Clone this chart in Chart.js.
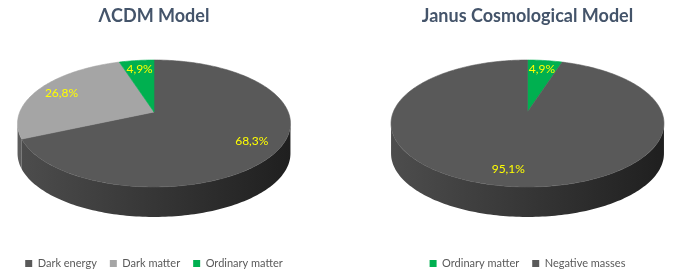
<!DOCTYPE html>
<html>
<head>
<meta charset="utf-8">
<script src="https://cdn.jsdelivr.net/npm/chart.js@4.4.1/dist/chart.umd.min.js"></script>
<style>
  html, body { margin: 0; padding: 0; background: #fff; }
  body { width: 679px; height: 274px; position: relative; overflow: hidden; }
  .pie-box { position: absolute; top: 0; height: 279px; }
  #lcdm-box { left: 0; width: 308px; }
  #janus-box { left: 376px; width: 303px; }
</style>
</head>
<body>
<div class="pie-box" id="lcdm-box"><canvas id="lcdm-chart"></canvas></div>
<div class="pie-box" id="janus-box"><canvas id="janus-chart"></canvas></div>
<script>
// Data
const lcdmTitle = 'ΛCDM Model';
const lcdmLabels = ['Dark energy', 'Dark matter', 'Ordinary matter'];
const lcdmValues = [68.3, 26.8, 4.9];

const janusTitle = 'Janus Cosmological Model';
const janusLabels = ['Ordinary matter', 'Negative masses'];
const janusValues = [4.9, 95.1];

// Style
const TOP_COLORS = {
    'Dark energy': '#595959',
    'Negative masses': '#595959',
    'Dark matter': '#a5a5a5',
    'Ordinary matter': '#00b050'
};
const SIDE_COLORS = {
    'Dark energy': ['#4d4d4d', '#1f1f1f'],
    'Negative masses': ['#4d4d4d', '#1f1f1f'],
    'Dark matter': ['#5c5c5c', '#3a3a3a'],
    'Ordinary matter': ['#009040', '#005a28']
};
const FONT = 'Lato';

// Fake 3D pie: reuse the arc angles Chart.js computed, project them onto a tilted disc
const pie3d = {
    id: 'pie3d',
    beforeDatasetsDraw(chart, args, opts) {
        const ctx = chart.ctx;
        const arcs = chart.getDatasetMeta(0).data;
        const ds = chart.data.datasets[0];
        const labels = chart.data.labels;
        const cx = arcs[0].x;
        const vy = opts.vertexY;
        const A = opts.rx, B = opts.ry, p = opts.persp, depth = opts.depth;

        const proj = (a, r) => {
            const x = r * Math.cos(a), z = r * Math.sin(a);
            const w = 1 - p * z;
            return [cx + A * x / w, vy + B * z / w];
        };
        const steps = (s, e) => Math.max(2, Math.ceil((e - s) / 0.02));

        ctx.save();

        // side walls (front half only)
        const vis0 = Math.asin(p), vis1 = Math.PI - Math.asin(p);
        arcs.forEach((arc, i) => {
            const s = Math.max(arc.startAngle, vis0);
            const e = Math.min(arc.endAngle, vis1);
            if (e <= s) return;
            const n = steps(s, e);
            ctx.beginPath();
            for (let k = 0; k <= n; k++) {
                const [x, y] = proj(s + (e - s) * k / n, 1);
                k === 0 ? ctx.moveTo(x, y) : ctx.lineTo(x, y);
            }
            for (let k = n; k >= 0; k--) {
                const [x, y] = proj(s + (e - s) * k / n, 1);
                ctx.lineTo(x, y + depth);
            }
            ctx.closePath();
            const g = ctx.createLinearGradient(cx - A * 1.02, 0, cx + A * 1.02, 0);
            const sc = SIDE_COLORS[labels[i]];
            g.addColorStop(0, sc[0]);
            g.addColorStop(1, sc[1]);
            ctx.fillStyle = g;
            ctx.fill();
        });

        // top faces
        arcs.forEach((arc, i) => {
            const s = arc.startAngle, e = arc.endAngle;
            const n = steps(s, e);
            ctx.beginPath();
            ctx.moveTo(cx, vy);
            for (let k = 0; k <= n; k++) {
                const [x, y] = proj(s + (e - s) * k / n, 1);
                ctx.lineTo(x, y);
            }
            ctx.closePath();
            ctx.fillStyle = ds.backgroundColor[i];
            ctx.strokeStyle = ds.backgroundColor[i];
            ctx.lineWidth = 0.6;
            ctx.fill();
            ctx.stroke();
        });

        // value labels
        ctx.font = `${opts.labelSize}px ${FONT}`;
        ctx.fillStyle = '#ffff00';
        ctx.textAlign = 'center';
        ctx.textBaseline = 'middle';
        arcs.forEach((arc, i) => {
            const mid = (arc.startAngle + arc.endAngle) / 2;
            const [x, y] = proj(mid, opts.labelR);
            ctx.fillText(ds.data[i].toFixed(1).replace('.', ',') + '%', x, y);
        });

        ctx.restore();
        return false;
    }
};

function makePie(canvasId, title, labels, values) {
    return new Chart(document.getElementById(canvasId), {
        type: 'pie',
        data: {
            labels: labels,
            datasets: [{
                data: values,
                backgroundColor: labels.map(l => TOP_COLORS[l]),
                borderWidth: 0
            }]
        },
        options: {
            responsive: true,
            maintainAspectRatio: false,
            animation: false,
            rotation: 0,
            layout: { padding: 0 },
            plugins: {
                title: {
                    display: true,
                    text: title,
                    color: '#44546a',
                    font: { family: FONT, size: 18, weight: 'bold' },
                    padding: { top: 5, bottom: 8 }
                },
                legend: {
                    position: 'bottom',
                    labels: {
                        boxWidth: 7,
                        boxHeight: 7,
                        color: '#595959',
                        font: { family: FONT, size: 11 },
                        padding: 13
                    }
                },
                tooltip: { enabled: false },
                pie3d: {
                    vertexY: 112,
                    rx: 134.2,
                    ry: 61.4,
                    persp: 0.181,
                    depth: 30,
                    labelR: 0.8,
                    labelSize: 12
                }
            }
        },
        plugins: [pie3d]
    });
}

const charts = {
    lcdm: makePie('lcdm-chart', lcdmTitle, lcdmLabels, lcdmValues),
    janus: makePie('janus-chart', janusTitle, janusLabels, janusValues)
};
</script>
</body>
</html>
